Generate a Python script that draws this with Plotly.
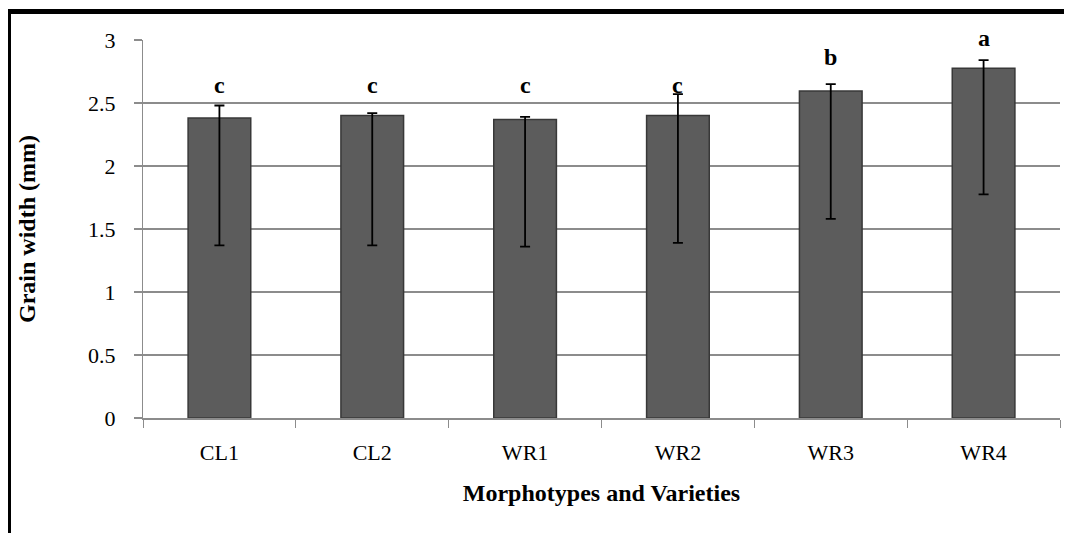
import plotly.graph_objects as go

categories = ["CL1", "CL2", "WR1", "WR2", "WR3", "WR4"]
means = [2.38, 2.40, 2.37, 2.40, 2.595, 2.775]
err_upper = [2.48, 2.42, 2.39, 2.57, 2.65, 2.84]
err_lower = [1.37, 1.37, 1.36, 1.39, 1.58, 1.775]
letters = ["c", "c", "c", "c", "b", "a"]
letter_y = [2.64, 2.64, 2.64, 2.64, 2.865, 3.0]

plus = [u - m for u, m in zip(err_upper, means)]
minus = [m - l for m, l in zip(means, err_lower)]

# page body has an 8px margin, so the figure is sized to fit the window
W, H = 1064, 525
L, R, T, B = 135, 12, 32, 115
pw, ph = W - L - R, H - T - B

fig = go.Figure()
fig.add_trace(go.Bar(
    x=categories, y=means, width=0.41,
    marker=dict(color="#5c5c5c", line=dict(color="#383838", width=1.5)),
    error_y=dict(type="data", symmetric=False, array=plus, arrayminus=minus,
                 color="black", thickness=1.8, width=5),
    showlegend=False,
))

for c, t, y in zip(categories, letters, letter_y):
    fig.add_annotation(x=c, y=y, text="<b>" + t + "</b>", showarrow=False,
                       yanchor="middle", yshift=2 if y >= 3.0 else 0,
                       font=dict(family="Liberation Serif", size=24, color="black"))

def px(xp):
    return (xp - L) / pw

def py(yp):
    return (H - B - yp) / ph

# black frame lines at top and left
fig.add_shape(type="rect", xref="paper", yref="paper",
              x0=px(0), x1=px(W), y0=py(6), y1=py(1),
              fillcolor="black", line=dict(width=0), layer="above")
fig.add_shape(type="rect", xref="paper", yref="paper",
              x0=px(0), x1=px(3), y0=py(H), y1=py(1),
              fillcolor="black", line=dict(width=0), layer="above")

fig.update_layout(
    width=W, height=H,
    margin=dict(l=L, r=R, t=T, b=B),
    paper_bgcolor="white", plot_bgcolor="white",
    font=dict(family="Liberation Serif", color="black", size=22),
    xaxis=dict(
        title=dict(text="<b>Morphotypes and Varieties</b>", font=dict(size=24), standoff=20),
        showline=True, linecolor="#8c8c8c", linewidth=1.5,
        ticks="outside", ticklen=8, tickcolor="#8c8c8c", tickson="boundaries",
        tickfont=dict(size=22), ticklabelstandoff=14,
    ),
    yaxis=dict(
        title=dict(text="<b>Grain width (mm)</b>", font=dict(size=24), standoff=45),
        range=[0, 3], dtick=0.5,
        showgrid=True, gridcolor="#8c8c8c", gridwidth=2,
        showline=True, linecolor="#8c8c8c", linewidth=1,
        ticks="outside", ticklen=8, tickcolor="#8c8c8c", tickwidth=2,
        tickfont=dict(size=22), ticklabelstandoff=14,
        zeroline=False,
    ),
)

fig.write_html("out.html")
